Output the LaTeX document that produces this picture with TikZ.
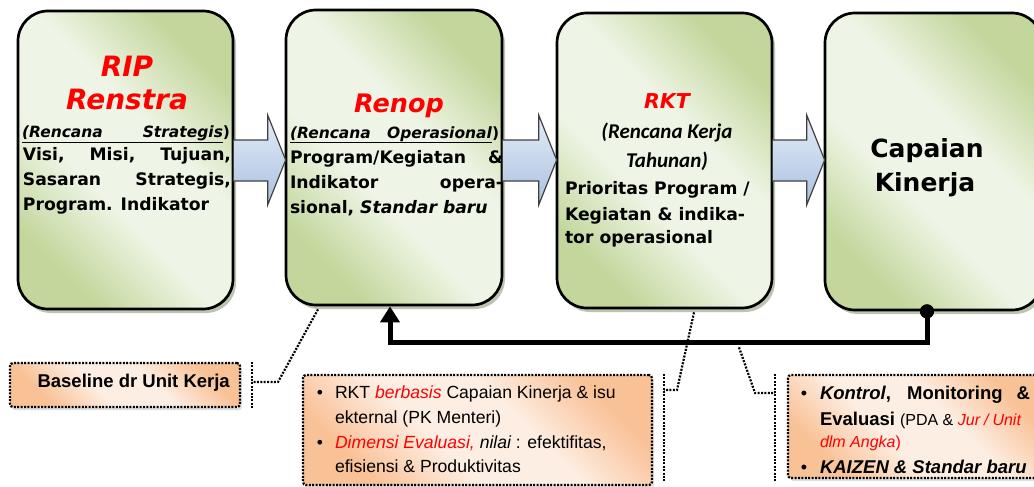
\documentclass[tikz,border=0pt]{standalone}
\usepackage{fontspec}
\setmainfont{DejaVu Sans}
\newfontfamily\arialf{Liberation Sans}
\newfontfamily\calib{Carlito}
\usetikzlibrary{arrows.meta,calc,shadows}
\definecolor{gl}{HTML}{EFF5E6}
\definecolor{gd}{HTML}{C3D79D}
\definecolor{ol}{HTML}{FDEEE3}
\definecolor{od}{HTML}{F9C196}
\definecolor{bl}{HTML}{E4ECF7}
\definecolor{bd}{HTML}{A9C1E0}
\definecolor{rd}{HTML}{FF0000}
\pgfdeclarehorizontalshading{greenshade}{100bp}{color(0bp)=(gd); color(26bp)=(gd); color(42bp)=(gl); color(58bp)=(gl); color(74bp)=(gd); color(100bp)=(gd)}
\pgfdeclarehorizontalshading{orangeshade}{100bp}{color(0bp)=(od); color(26bp)=(od); color(42bp)=(ol); color(58bp)=(ol); color(74bp)=(od); color(100bp)=(od)}
\newcommand{\fs}[2]{\fontsize{#1pt}{#2pt}\selectfont}
\tikzset{
  gbox/.style={draw=black, line width=2.7pt, rounded corners=30pt, shading=greenshade, shading angle=45,
    drop shadow={shadow xshift=3pt, shadow yshift=-4pt, fill=black!30!gd, opacity=0.55}, inner sep=0pt},
  obox/.style={draw=black, line width=2.2pt, dash pattern=on 2pt off 1.4pt, rounded corners=3pt,
    shading=orangeshade, shading angle=45,
    drop shadow={shadow xshift=2pt, shadow yshift=-3pt, fill=black!35, opacity=0.35}, inner sep=0pt},
  blk/.style={draw=black!75, line width=1.2pt, top color=bl, bottom color=bd},
  ln/.style={anchor=base west, inner sep=0pt, outer sep=0pt},
  lnc/.style={anchor=base, inner sep=0pt, outer sep=0pt},
  dotl/.style={draw=black, line width=2.2pt, dash pattern=on 2pt off 1.4pt},
  fb/.style={draw=black, line width=5pt, -{Triangle[length=16pt,width=19pt]}},
  red/.style={text=rd},
  body/.style={ln, font=\fs{17.2}{20}\bfseries},
}
\begin{document}
\begin{tikzpicture}[x=1pt,y=-1pt]
\useasboundingbox (0,0) rectangle (1034,487);
% green boxes
\node[gbox, minimum width=215pt, minimum height=298pt] (b1) at (125.5,160) {};
\node[gbox, minimum width=216pt, minimum height=295pt] (b2) at (394,157.5) {};
\node[gbox, minimum width=215pt, minimum height=295pt] (b3) at (664.5,160.5) {};
\node[gbox, minimum width=217pt, minimum height=297pt] (b4) at (933.5,161.5) {};
% block arrows
\foreach \a/\b in {b1/b2, b2/b3, b3/b4}{
  \draw[blk] let \p1=(\a.east), \p2=(\b.west) in
    (\x1-1pt,140) -- (\x2-17pt,140) -- (\x2-17pt,115) -- (\x2+1pt,160)
    -- (\x2-17pt,205) -- (\x2-17pt,181) -- (\x1-1pt,181) -- cycle;
}
% box 1 text
\node[lnc, red, font=\fs{28}{30}\bfseries\itshape] (rip) at (127,77) {RIP};
\node[lnc, red, font=\fs{28}{30}\bfseries\itshape] (renstra) at (127,110) {Renstra};
\node[ln, font=\fs{15.5}{18}\bfseries] (b1l1) at (22,137) {\underline{\makebox[201pt][s]{\itshape (Rencana Strategis}})};
\node[body] (b1l2) at (23,160) {\makebox[208pt][s]{Visi, Misi, Tujuan,}};
\node[body] (b1l3) at (23,185) {\makebox[208pt][s]{Sasaran Strategis,}};
\node[body] (b1l4) at (23,210) {Program. Indikator};
% box 2 text
\node[lnc, red, font=\fs{25.5}{28}\bfseries\itshape] (renop) at (399,113) {Renop};
\node[ln, font=\fs{15.5}{18}\bfseries] (b2l1) at (290,138) {\underline{\makebox[202pt][s]{\itshape (Rencana Operasional}})};
\node[body] (b2l2) at (290,163) {\makebox[213pt][s]{Program/Kegiatan \&}};
\node[body] (b2l3) at (290,188) {\makebox[213pt][s]{Indikator opera-}};
\node[body] (b2l4) at (290,213) {sional, \itshape Standar baru};
% box 3 text
\node[lnc, red, font=\fs{20.5}{24}\bfseries\itshape] (rkt) at (667,108) {RKT};
\node[lnc, font=\calib\fs{21}{24}\bfseries\itshape] (b3l1) at (667,138) {(Rencana Kerja};
\node[lnc, font=\calib\fs{21}{24}\bfseries\itshape] (b3l2) at (667,167) {Tahunan)};
\node[body] (b3l3) at (565,194) {Prioritas Program /};
\node[body] (b3l4) at (565,220) {Kegiatan \& indika-};
\node[body] (b3l5) at (565,243) {tor operasional};
% box 4 text
\node[lnc, font=\fs{25}{28}\bfseries] (cap1) at (927,157) {Capaian};
\node[lnc, font=\fs{25}{28}\bfseries] (cap2) at (925,191) {Kinerja};
% feedback connector
\node[circle, fill=black, inner sep=0pt, minimum size=14pt] (fbdot) at ([xshift=-6.5pt]b4.south) {};
\draw[fb] (fbdot.center) -- ++(0,31) coordinate (fbc) -| ([xshift=-4pt]b2.south);
\fill[black] (fbdot) circle (7pt);
% orange boxes
\node[obox, minimum width=230pt, minimum height=44pt] (base) at (125,385) {};
\node[obox, minimum width=349pt, minimum height=110pt] (mid) at (477.5,430) {};
\node[obox, minimum width=260pt, minimum height=103pt] (rt) at (918,426.5) {};
% baseline text
\node[anchor=base east, inner sep=0pt, font=\arialf\fs{18.5}{21}\bfseries] (baset) at (230,387) {Baseline dr Unit Kerja};
% mid text
\node[lnc, font=\arialf\fs{17.5}{20}] (m1b) at (320,398) {•};
\node[ln, font=\arialf\fs{17.6}{20}] (m1) at (335,398) {RKT \textcolor{rd}{\itshape berbasis} Capaian Kinerja \& isu};
\node[ln, font=\arialf\fs{17.6}{20}] (m2) at (335,423) {ekternal (PK Menteri)};
\node[lnc, font=\arialf\fs{17.5}{20}] (m3b) at (320,448) {•};
\node[ln, font=\arialf\fs{17.6}{20}] (m3) at (335,448) {\textcolor{rd}{\itshape Dimensi Evaluasi,} {\itshape nilai} : efektifitas,};
\node[ln, font=\arialf\fs{17.6}{20}] (m4) at (335,472) {efisiensi \& Produktivitas};
% right text
\node[lnc, font=\arialf\fs{18}{20}] (r1b) at (804,399) {•};
\node[ln, font=\arialf\fs{18.5}{20}\bfseries] (r1) at (820,399) {\makebox[210pt][s]{\itshape Kontrol\upshape, Monitoring \&}};
\node[ln, font=\arialf\fs{18.5}{20}\bfseries] (r2) at (820,425) {Evaluasi\hspace{5pt}{\mdseries\fs{16}{18}(PDA \& \textcolor{rd}{\itshape Jur\hspace{4pt}/\hspace{4pt}Unit}}};
\node[ln, red, font=\arialf\fs{16}{18}\itshape] (r3) at (820,447) {dlm Angka\upshape)};
\node[lnc, font=\arialf\fs{18}{20}] (r4b) at (804,473) {•};
\node[ln, font=\arialf\fs{18.5}{20}\bfseries\itshape] (r4) at (820,473) {KAIZEN \& Standar baru};
% dotted callout connectors
\coordinate (k1a) at ([xshift=11pt]base.north east);
\coordinate (k1b) at ([xshift=11pt]base.south east);
\draw[dotl] (k1a) -- (k1b);
\draw[dotl] ([xshift=-76pt,yshift=-3pt]b2.south) -- (278,382) -- (k1a |- 0,382);
\coordinate (k2a) at ([xshift=11pt]mid.north east);
\coordinate (k2b) at ([xshift=11pt,yshift=4pt]mid.south east);
\draw[dotl] (k2a) -- (k2b);
\draw[dotl] ([xshift=29.5pt,yshift=-3pt]b3.south) -- (677,390) -- (k2a |- 0,390);
\coordinate (k3a) at ([xshift=-12pt]rt.north west);
\coordinate (k3b) at ([xshift=-12pt,yshift=-3pt]rt.south west);
\draw[dotl] (k3a) -- (k3b);
\coordinate (k3s) at ([yshift=-5pt]fbc -| 739,0);
\draw[dotl] (k3s) -- (755,393) -- (k3a |- 0,393);
\end{tikzpicture}
\end{document}
